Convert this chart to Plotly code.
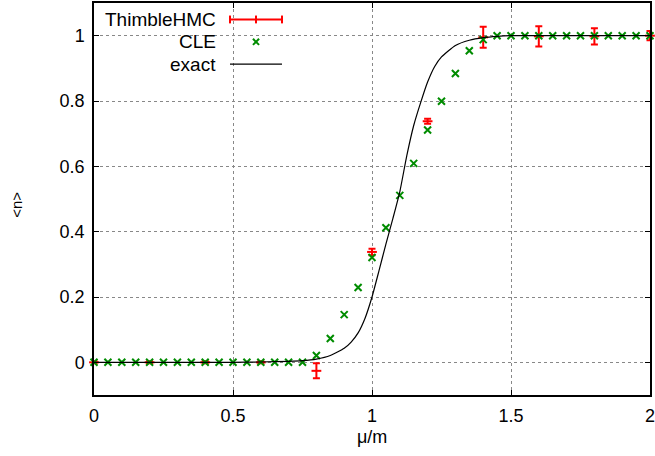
import plotly.graph_objects as go

# ThimbleHMC data (with error bars)
hmc_x = [0.0, 0.2, 0.4, 0.6, 0.8, 1.0, 1.2, 1.4, 1.6, 1.8, 2.0]
hmc_y = [0.0, 0.0, 0.0, 0.0, -0.026, 0.338, 0.738, 0.995, 0.998, 0.998, 1.0]
hmc_err = [0.003, 0.003, 0.003, 0.003, 0.023, 0.01, 0.008, 0.032, 0.031, 0.025, 0.014]

# CLE data
cle_x = [0.0, 0.05, 0.1, 0.15, 0.2, 0.25, 0.3, 0.35, 0.4, 0.45, 0.5, 0.55, 0.6, 0.65, 0.7,
         0.75, 0.8, 0.85, 0.9, 0.95, 1.0, 1.05, 1.1, 1.15, 1.2, 1.25, 1.3, 1.35, 1.4,
         1.45, 1.5, 1.55, 1.6, 1.65, 1.7, 1.75, 1.8, 1.85, 1.9, 1.95, 2.0]
cle_y = [0.0, 0.0, 0.0, 0.0, 0.0, 0.0, 0.0, 0.0, 0.0, 0.0, 0.0, 0.0, 0.0, 0.0, 0.0,
         0.0, 0.021, 0.073, 0.146, 0.229, 0.321, 0.412, 0.511, 0.609, 0.711, 0.799, 0.884, 0.954, 0.988,
         1.0, 1.0, 1.0, 1.0, 1.0, 1.0, 1.0, 1.0, 1.0, 1.0, 1.0, 1.0]

# exact curve
exact_x = [0.0, 0.5, 0.6, 0.7, 0.75, 0.8, 0.85, 0.9, 0.925, 0.95, 0.975, 1.0, 1.025, 1.05,
           1.075, 1.1, 1.125, 1.15, 1.175, 1.2, 1.225, 1.25, 1.3, 1.35, 1.4, 1.45, 1.5, 2.0]
exact_y = [0.0, 0.0, 0.001, 0.003, 0.005, 0.01, 0.021, 0.043, 0.062, 0.09, 0.135, 0.2, 0.28, 0.362,
           0.44, 0.522, 0.632, 0.725, 0.795, 0.858, 0.905, 0.935, 0.97, 0.986, 0.994, 0.998, 1.0, 1.0]

x_ticks = [0, 0.5, 1, 1.5, 2]
x_tick_labels = ["0", "0.5", "1", "1.5", "2"]
y_ticks = [0, 0.2, 0.4, 0.6, 0.8, 1]
y_tick_labels = ["0", "0.2", "0.4", "0.6", "0.8", "1"]

RED = "#ff0000"
GREEN = "#008c00"
FONT = "Liberation Sans"

fig = go.Figure()
fig.add_trace(go.Scatter(
    x=hmc_x, y=hmc_y, mode="markers", name="ThimbleHMC",
    marker=dict(symbol="line-ew", size=7, line=dict(color=RED, width=2)),
    error_y=dict(type="data", array=hmc_err, visible=True, color=RED, thickness=2, width=3.5),
    cliponaxis=False,
))
fig.add_trace(go.Scatter(
    x=cle_x, y=cle_y, mode="markers", name="CLE",
    marker=dict(symbol="x-thin", size=7, line=dict(color=GREEN, width=2)),
    cliponaxis=False,
))
fig.add_trace(go.Scatter(
    x=exact_x, y=exact_y, mode="lines", name="exact",
    line=dict(color="black", width=1.2, shape="spline", smoothing=0.5),
))

axis_common = dict(
    showline=True, linecolor="black", linewidth=1.5, mirror="ticks",
    ticks="inside", ticklen=5, tickcolor="black", tickwidth=1,
    showgrid=True, gridcolor="#888888", griddash="dot", gridwidth=1,
    zeroline=False, automargin=False, ticklabeloverflow="allow",
    tickfont=dict(family=FONT, size=18, color="black"),
)
fig.update_xaxes(range=[0, 2], tickvals=x_ticks, ticktext=x_tick_labels, ticklabelstandoff=4, **axis_common)
fig.update_yaxes(range=[-0.1, 1.1], tickvals=y_ticks, ticktext=y_tick_labels, ticklabelstandoff=4, **axis_common)

# legend drawn gnuplot-style (text, then sample)
lx0, lx1, lxm = 0.2446, 0.3381, 0.2914
rows = [0.958, 0.901, 0.844]
shapes = [
    dict(type="line", xref="paper", yref="paper", x0=lx0, x1=lx1, y0=rows[0], y1=rows[0],
         line=dict(color=RED, width=2)),
]
for xx in (lx0, lxm, lx1):
    shapes.append(dict(type="line", xref="paper", yref="paper", x0=xx, x1=xx,
                       y0=rows[0] - 0.01, y1=rows[0] + 0.01, line=dict(color=RED, width=2)))
dx, dy = 0.0055, 0.0078
shapes.append(dict(type="line", xref="paper", yref="paper", x0=lxm - dx, x1=lxm + dx,
                   y0=rows[1] - dy, y1=rows[1] + dy, line=dict(color=GREEN, width=2)))
shapes.append(dict(type="line", xref="paper", yref="paper", x0=lxm - dx, x1=lxm + dx,
                   y0=rows[1] + dy, y1=rows[1] - dy, line=dict(color=GREEN, width=2)))
shapes.append(dict(type="line", xref="paper", yref="paper", x0=lx0, x1=lx1, y0=rows[2], y1=rows[2],
                   line=dict(color="black", width=1.2)))

annotations = []
for txt, yy in zip(["ThimbleHMC", "CLE", "exact"], rows):
    annotations.append(dict(text=txt, xref="paper", yref="paper", x=0.223, y=yy,
                            xanchor="right", yanchor="middle", showarrow=False,
                            font=dict(family=FONT, size=19, color="black")))
annotations.append(dict(text="μ/m", xref="paper", yref="paper", x=0.5, y=-0.107,
                        xanchor="center", yanchor="middle", showarrow=False,
                        font=dict(family=FONT, size=18, color="black")))
annotations.append(dict(text="<n>", xref="paper", yref="paper", x=-0.1385, y=0.485,
                        xanchor="center", yanchor="middle", showarrow=False, textangle=-90,
                        font=dict(family=FONT, size=15, color="black")))

fig.update_layout(
    width=655, height=456,
    margin=dict(l=94, r=5, t=3, b=61),
    paper_bgcolor="white", plot_bgcolor="white",
    showlegend=False,
    shapes=shapes, annotations=annotations,
)

fig.write_html(
    "out.html",
    config={"displayModeBar": False},
    post_script="document.body.style.margin='0';document.body.style.padding='0';document.body.style.overflow='hidden';",
)
